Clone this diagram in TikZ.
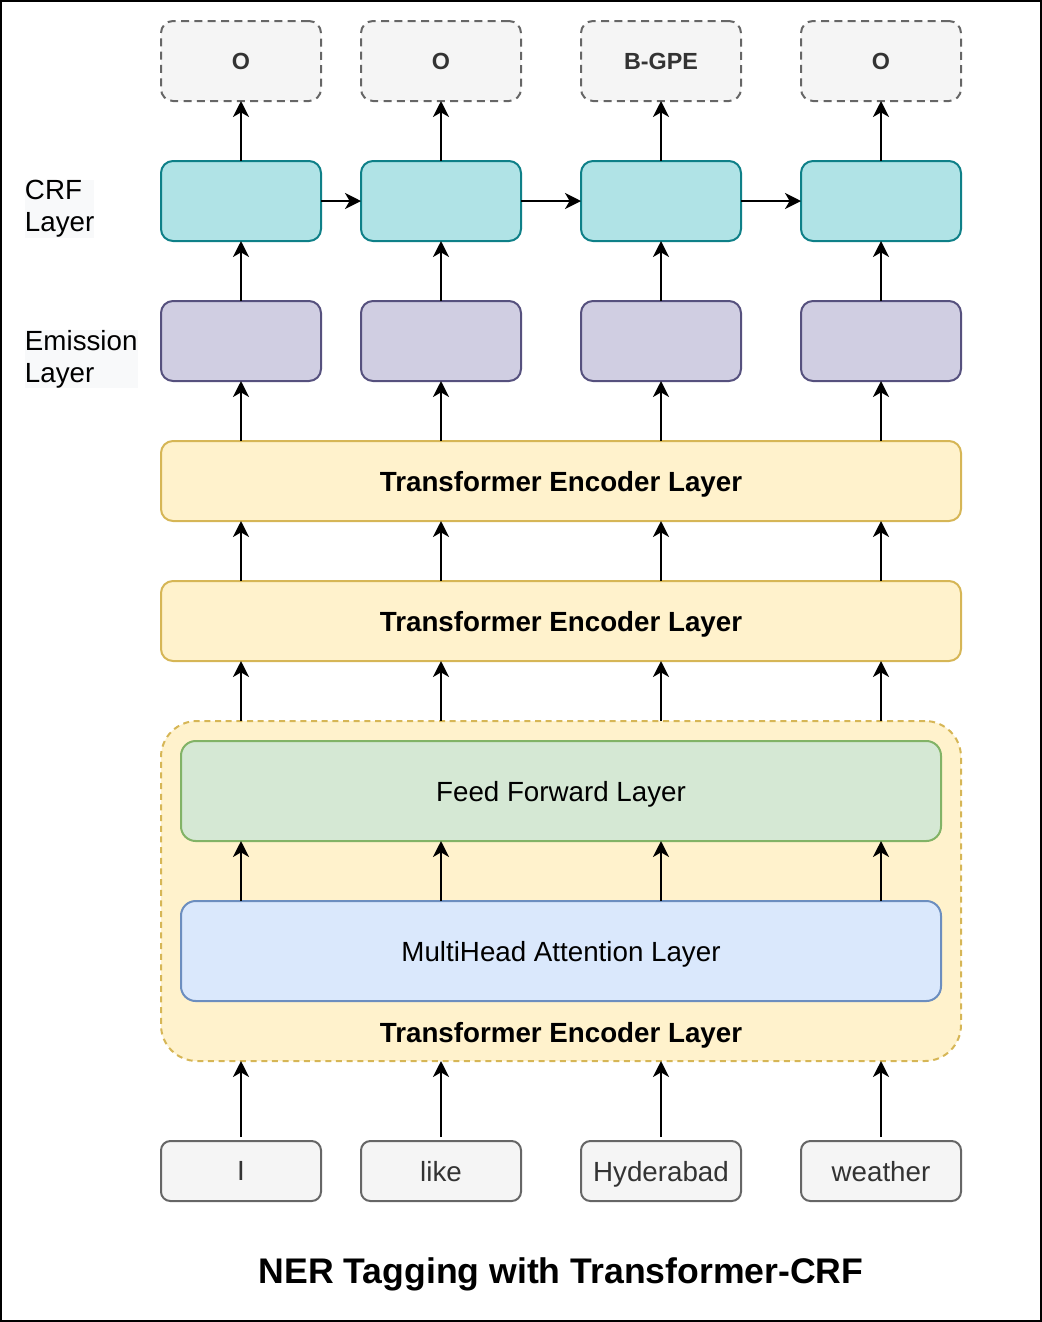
\documentclass[tikz,border=0pt]{standalone}
\usepackage{fontspec}
\setmainfont{Liberation Sans}
\usetikzlibrary{arrows.meta}
\definecolor{outfill}{HTML}{F5F5F5}
\definecolor{outdraw}{HTML}{666666}
\definecolor{outtext}{HTML}{333333}
\definecolor{crffill}{HTML}{B0E3E6}
\definecolor{crfdraw}{HTML}{0E8088}
\definecolor{emfill}{HTML}{D0CEE2}
\definecolor{emdraw}{HTML}{56517E}
\definecolor{tefill}{HTML}{FFF2CC}
\definecolor{tedraw}{HTML}{D6B656}
\definecolor{fffill}{HTML}{D5E8D4}
\definecolor{ffdraw}{HTML}{82B366}
\definecolor{mhafill}{HTML}{DAE8FC}
\definecolor{mhadraw}{HTML}{6C8EBF}
\definecolor{lblbg}{HTML}{F8F9FA}
\tikzset{
  plain/.style={rectangle, inner sep=0pt, outer sep=0pt, line width=1.5pt,
    font=\fontsize{20.8}{24}\selectfont},
  base/.style={plain, text depth=0pt},
  outbox/.style={base, rounded corners=9pt, fill=outfill, draw=outdraw,
    dash pattern=on 6pt off 4pt, text=outtext,
    minimum width=120pt, minimum height=60pt,
    font=\fontsize{17.5}{20}\selectfont\bfseries},
  crfbox/.style={base, rounded corners=9pt, fill=crffill, draw=crfdraw,
    minimum width=120pt, minimum height=60pt},
  embox/.style={base, rounded corners=9pt, fill=emfill, draw=emdraw,
    minimum width=120pt, minimum height=60pt},
  tebox/.style={base, rounded corners=9pt, fill=tefill, draw=tedraw,
    minimum width=600pt, minimum height=60pt,
    font=\fontsize{20.8}{24}\selectfont\bfseries},
  contbox/.style={base, rounded corners=27pt, fill=tefill, draw=tedraw,
    dash pattern=on 4.5pt off 3.5pt,
    minimum width=600pt, minimum height=255pt},
  ffbox/.style={base, rounded corners=11pt, fill=fffill, draw=ffdraw,
    minimum width=570pt, minimum height=75pt},
  mhabox/.style={base, rounded corners=11pt, fill=mhafill, draw=mhadraw,
    minimum width=570pt, minimum height=75pt},
  inbox/.style={base, rounded corners=7pt, fill=outfill, draw=outdraw,
    text=outtext, minimum width=120pt, minimum height=45pt},
  sidelbl/.style={plain, align=left, anchor=west, fill=lblbg},
  arr/.style={line width=1.5pt, -{Stealth[length=12pt, width=12pt, inset=3.5pt]}},
}
\begin{document}
\begin{tikzpicture}[x=0.75pt, y=-0.75pt]
\useasboundingbox (0,0) rectangle (1042,1322);
\draw[line width=1.5pt] (1,1) rectangle (1041,1321);

% column coordinates
\coordinate (c1) at (241,0);
\coordinate (c2) at (441,0);
\coordinate (c3) at (661,0);
\coordinate (c4) at (881,0);

% side labels
\node[sidelbl] (lcrf) at (25,209) {CRF \\ Layer};
\node[sidelbl] (lem) at (25,359) {Emission\\ Layer};

% output tags
\node[outbox] (o1) at (241,61) {O};
\node[outbox] (o2) at (441,61) {O};
\node[outbox] (o3) at (661,61) {B-GPE};
\node[outbox] (o4) at (881,61) {O};

% CRF
\node[crfbox] (crf1) at (241,201) {};
\node[crfbox] (crf2) at (441,201) {};
\node[crfbox] (crf3) at (661,201) {};
\node[crfbox] (crf4) at (881,201) {};

% Emission
\node[embox] (em1) at (241,341) {};
\node[embox] (em2) at (441,341) {};
\node[embox] (em3) at (661,341) {};
\node[embox] (em4) at (881,341) {};

% Transformer encoder layers
\node[tebox] (te1) at (561,481) {Transformer Encoder Layer};
\node[tebox] (te2) at (561,621) {Transformer Encoder Layer};

% expanded encoder
\node[contbox] (cont) at (561,891) {};
\node[ffbox] (ff) at (561,791) {Feed Forward Layer};
\node[mhabox] (mha) at (561,951) {MultiHead Attention Layer};
\node[base, font=\fontsize{20.8}{24}\selectfont\bfseries] (contlbl) at (561,1032) {Transformer Encoder Layer};

% inputs
\node[inbox] (i1) at (241,1171) {I};
\node[inbox] (i2) at (441,1171) {like};
\node[inbox] (i3) at (661,1171) {Hyderabad};
\node[inbox] (i4) at (881,1171) {weather};

% title
\node[base, font=\fontsize{26.7}{30}\selectfont\bfseries] (title) at (561,1271) {NER Tagging with Transformer-CRF};

% arrows: CRF -> outputs, emission -> CRF
\foreach \k in {1,2,3,4}{
  \draw[arr] (crf\k.north) -- (o\k.south);
  \draw[arr] (em\k.north) -- (crf\k.south);
  \draw[arr] (te1.north -| c\k) -- (em\k.south);
  \draw[arr] (te2.north -| c\k) -- (te1.south -| c\k);
  \draw[arr] (cont.north -| c\k) -- (te2.south -| c\k);
  \draw[arr] (mha.north -| c\k) -- (ff.south -| c\k);
  \draw[arr, shorten <=3pt] (i\k.north) -- (cont.south -| c\k);
}
% CRF chain
\draw[arr] (crf1.east) -- (crf2.west);
\draw[arr] (crf2.east) -- (crf3.west);
\draw[arr] (crf3.east) -- (crf4.west);
\end{tikzpicture}
\end{document}
